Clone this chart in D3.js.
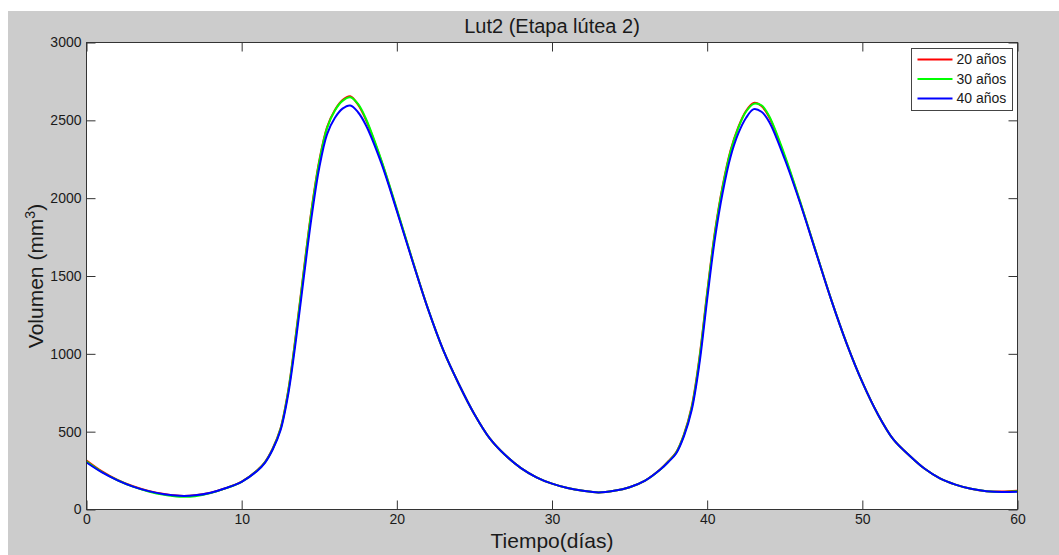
<!DOCTYPE html>
<html>
<head>
<meta charset="utf-8">
<script src="https://cdn.jsdelivr.net/npm/d3@7"></script>
<style>
  body { margin: 0; background: #fff; }
  text { font-family: "Liberation Sans", Arial, sans-serif; fill: #1a1a1a; }
</style>
</head>
<body>
<div id="chart"></div>
<script>
// time in days (half day steps on the steep parts)
const dias = [0, 1, 2, 3, 4, 5, 6, 7, 8, 9, 10,
  11, 11.5, 12, 12.5, 13, 13.5, 14, 14.5, 15, 15.5, 16, 16.5, 17, 17.5, 18,
  19, 20, 21, 22, 23, 24, 25, 26, 27, 28, 29, 30, 31, 32, 33, 34, 35, 36, 37,
  37.5, 38, 38.5, 39, 39.5, 40, 40.5, 41, 41.5, 42, 42.5, 43, 43.5, 44,
  45, 46, 47, 48, 49, 50, 51, 52, 53, 54, 55, 56, 57, 58, 59, 60];

// volumen (mm3)
const vol20 = [315, 245, 190, 149, 119, 99, 88, 91, 108, 138, 179,
  252, 305, 392, 520, 765, 1130, 1535, 1925, 2240, 2455, 2565, 2630, 2655, 2600, 2505,
  2240, 1925, 1602, 1291, 1022, 805, 612, 455, 348, 266, 207, 166, 138, 120, 110, 120, 143, 186, 260,
  310, 368, 482, 660, 975, 1395, 1785, 2080, 2305, 2455, 2560, 2612, 2592, 2520,
  2265, 1972, 1658, 1347, 1064, 818, 612, 450, 350, 263, 200, 160, 133, 118, 115, 120];

const vol30 = [308, 241, 188, 147, 116, 94, 82, 85, 105, 137, 178,
  250, 303, 389, 515, 758, 1120, 1525, 1915, 2232, 2450, 2562, 2625, 2648, 2605, 2512,
  2245, 1930, 1604, 1292, 1022, 805, 612, 455, 348, 266, 207, 166, 138, 120, 110, 120, 143, 186, 259,
  308, 365, 478, 652, 965, 1385, 1775, 2072, 2298, 2450, 2555, 2606, 2597, 2527,
  2275, 1976, 1660, 1347, 1064, 818, 612, 450, 350, 263, 200, 160, 133, 118, 113, 117];

const vol40 = [302, 238, 187, 147, 118, 98, 88, 91, 108, 138, 178,
  248, 300, 385, 507, 740, 1090, 1488, 1875, 2195, 2410, 2515, 2575, 2595, 2552, 2470,
  2225, 1918, 1598, 1290, 1022, 805, 612, 455, 348, 266, 207, 166, 138, 120, 110, 120, 143, 185, 258,
  305, 360, 470, 637, 935, 1350, 1740, 2036, 2263, 2414, 2515, 2572, 2555, 2490,
  2250, 1966, 1655, 1345, 1063, 818, 612, 450, 350, 263, 200, 160, 133, 118, 112, 114];

const series = [
  {name: '20 años', color: '#ff0000', values: vol20},
  {name: '30 años', color: '#00ff00', values: vol30},
  {name: '40 años', color: '#0000ff', values: vol40}
];

const xTicks = [0, 10, 20, 30, 40, 50, 60];
const yTicks = [0, 500, 1000, 1500, 2000, 2500, 3000];

const W = 1059, H = 555;
const plot = {left: 86.5, right: 1017.5, top: 42.5, bottom: 509.5};

const svg = d3.select('#chart').append('svg')
  .attr('width', W)
  .attr('height', H);

// matlab style grey figure background
svg.append('rect')
  .attr('x', 8).attr('y', 11)
  .attr('width', W - 8).attr('height', H - 11)
  .attr('fill', '#cccccc');

svg.append('rect')
  .attr('x', plot.left).attr('y', plot.top)
  .attr('width', plot.right - plot.left).attr('height', plot.bottom - plot.top)
  .attr('fill', '#fff');

const x = d3.scaleLinear().domain([0, 60]).range([plot.left, plot.right]);
const y = d3.scaleLinear().domain([0, 3000]).range([plot.bottom, plot.top]);

// axes, ticks pointing inwards
const axisColor = '#333';
const fmt = d3.format('d');

const xAxis = svg.append('g')
  .attr('transform', `translate(0, ${plot.bottom})`)
  .call(d3.axisBottom(x).tickValues(xTicks).tickFormat(fmt).tickSizeInner(-9).tickSizeOuter(0).tickPadding(5));
const xAxisTop = svg.append('g')
  .attr('transform', `translate(0, ${plot.top})`)
  .call(d3.axisTop(x).tickValues(xTicks).tickSizeInner(-9).tickSizeOuter(0).tickFormat(''));
const yAxis = svg.append('g')
  .attr('transform', `translate(${plot.left}, 0)`)
  .call(d3.axisLeft(y).tickValues(yTicks).tickFormat(fmt).tickSizeInner(-9).tickSizeOuter(0).tickPadding(5));
const yAxisRight = svg.append('g')
  .attr('transform', `translate(${plot.right}, 0)`)
  .call(d3.axisRight(y).tickValues(yTicks).tickSizeInner(-9).tickSizeOuter(0).tickFormat(''));

[xAxis, xAxisTop, yAxis, yAxisRight].forEach(g => {
  g.select('.domain').remove();
  g.selectAll('.tick line').attr('stroke', axisColor);
  g.selectAll('.tick text')
    .style('font-family', '"Liberation Sans", Arial, sans-serif')
    .style('font-size', '14px')
    .attr('fill', '#1a1a1a');
});

// the lines
const line = d3.line()
  .x((d, i) => x(dias[i]))
  .y(d => y(d))
  .curve(d3.curveCatmullRom.alpha(0.5));

svg.append('clipPath').attr('id', 'clip')
  .append('rect')
  .attr('x', plot.left).attr('y', plot.top)
  .attr('width', plot.right - plot.left).attr('height', plot.bottom - plot.top);

svg.append('g')
  .attr('clip-path', 'url(#clip)')
  .selectAll('path')
  .data(series)
  .enter()
  .append('path')
  .attr('d', d => line(d.values))
  .attr('fill', 'none')
  .attr('stroke', d => d.color)
  .attr('stroke-width', 2)
  .attr('stroke-linejoin', 'round');

// plot box
svg.append('rect')
  .attr('x', plot.left).attr('y', plot.top)
  .attr('width', plot.right - plot.left).attr('height', plot.bottom - plot.top)
  .attr('fill', 'none')
  .attr('stroke', axisColor)
  .attr('stroke-width', 1);

// title and axis labels
svg.append('text')
  .attr('x', (plot.left + plot.right) / 2)
  .attr('y', 33)
  .style('text-anchor', 'middle')
  .style('font-size', '20px')
  .text('Lut2 (Etapa lútea 2)');

svg.append('text')
  .attr('x', (plot.left + plot.right) / 2)
  .attr('y', 548)
  .style('text-anchor', 'middle')
  .style('font-size', '21px')
  .text('Tiempo(días)');

const yLabel = svg.append('text')
  .attr('transform', `translate(43, ${(plot.top + plot.bottom) / 2}) rotate(-90)`)
  .style('text-anchor', 'middle')
  .style('font-size', '21px');
yLabel.append('tspan').text('Volumen (mm');
yLabel.append('tspan').attr('dy', -8).style('font-size', '14px').text('3');
yLabel.append('tspan').attr('dy', 8).text(')');

// legend
const legend = svg.append('g').attr('transform', 'translate(911.5, 48.5)');
legend.append('rect')
  .attr('width', 101).attr('height', 62)
  .attr('fill', '#fff')
  .attr('stroke', '#444')
  .attr('stroke-width', 1);

const rows = legend.selectAll('g.row')
  .data(series)
  .enter()
  .append('g')
  .attr('class', 'row')
  .attr('transform', (d, i) => `translate(0, ${11 + i * 19.5})`);

rows.append('line')
  .attr('x1', 6).attr('x2', 41)
  .attr('stroke', d => d.color)
  .attr('stroke-width', 2);

rows.append('text')
  .attr('x', 45)
  .attr('dy', '0.35em')
  .style('font-size', '14px')
  .text(d => d.name);
</script>
</body>
</html>
